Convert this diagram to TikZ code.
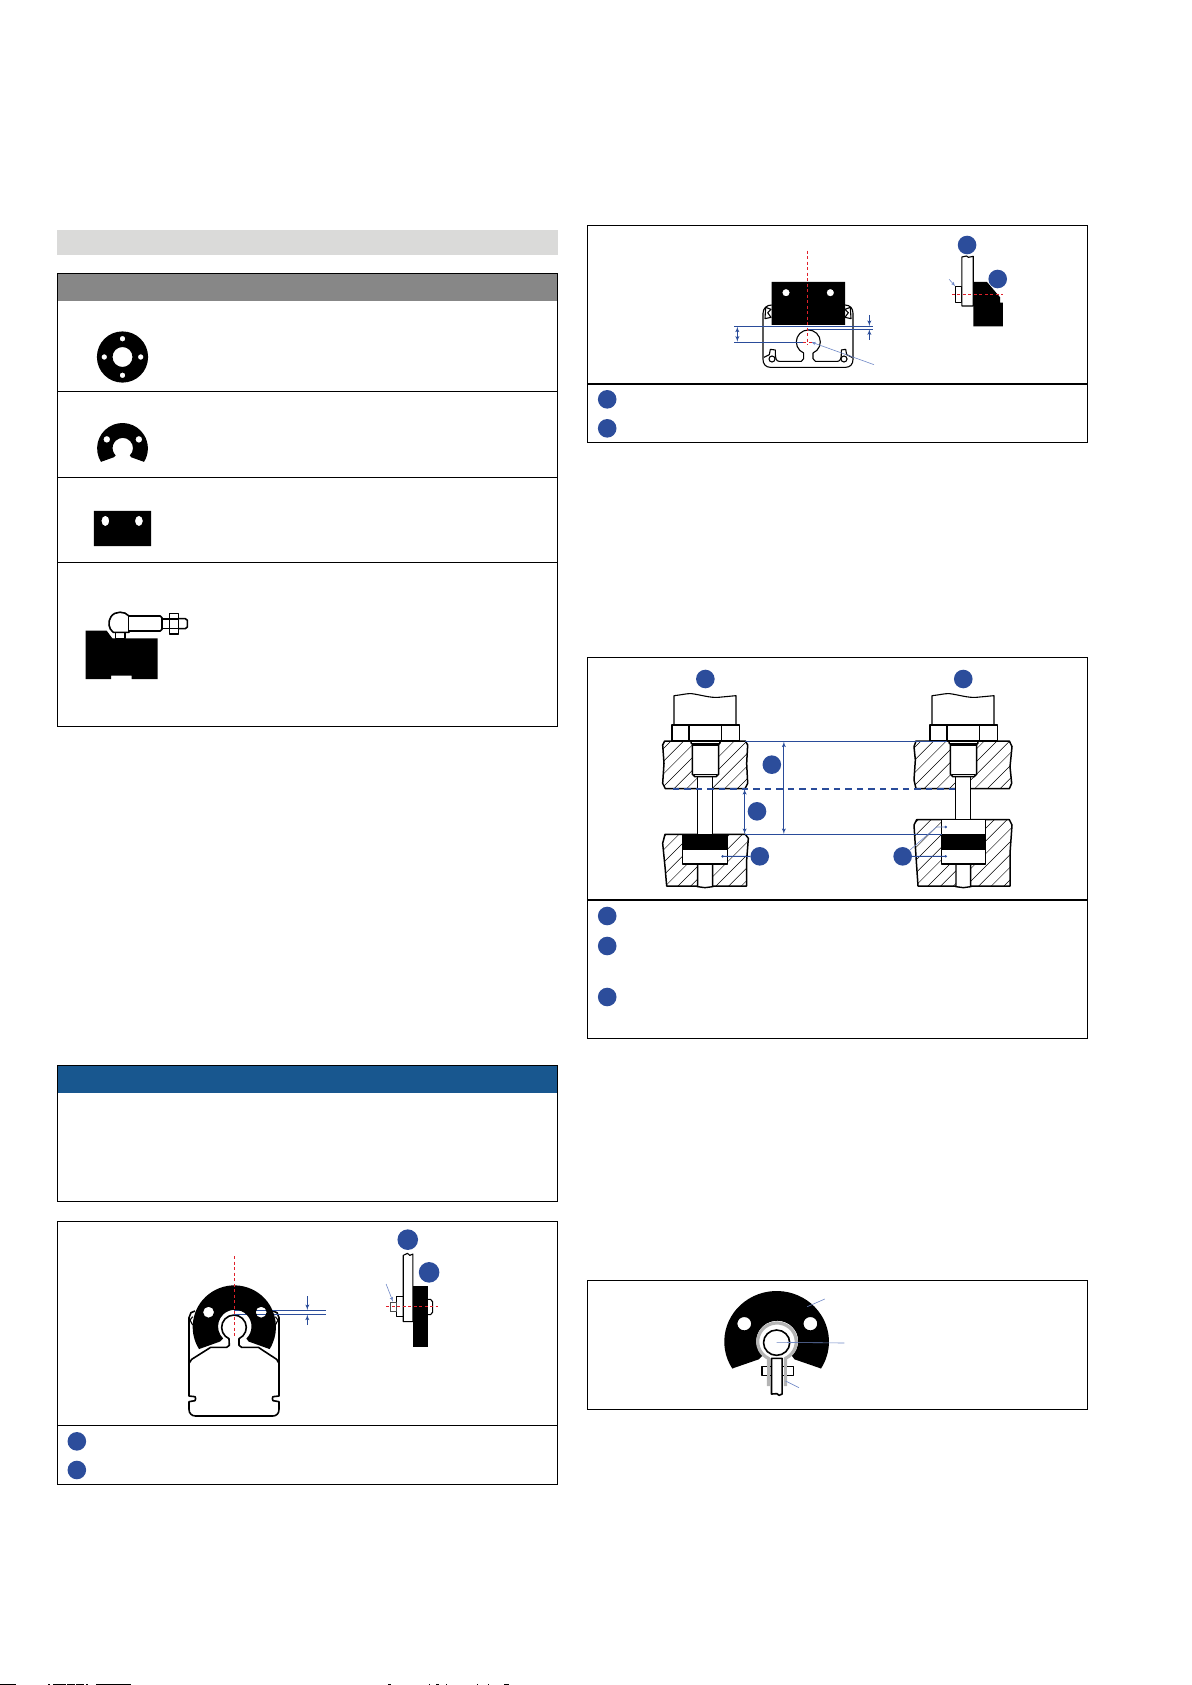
\documentclass[tikz,border=0pt]{standalone}
\usepackage{xcolor}
\usetikzlibrary{arrows,calc}

\definecolor{dotblue}{HTML}{2C4D9B}
\definecolor{linkblue}{HTML}{2A4C9A}
\definecolor{paleblue}{HTML}{6F88C6}
\definecolor{headblue}{HTML}{18578F}
\definecolor{barfill}{HTML}{DADAD9}
\definecolor{headgray}{HTML}{878787}
\definecolor{ringgray}{HTML}{B4B4B4}
\definecolor{axisred}{HTML}{E0202A}

\tikzset{
    cropA/.style={shift={(40,210)},xscale=1/2.8,yscale=1/2.904},
    cropB/.style={shift={(580,210)},xscale=1/2.904,yscale=1/3},
    cropC/.style={shift={(580,650)},xscale=1/2.904,yscale=1/3},
    cropD/.style={shift={(40,1060)},xscale=1/2.904,yscale=1/3},
    cropE/.style={shift={(580,1270)},xscale=1/2.904,yscale=1/3},
    frameline/.style={line width=1.1pt,draw=black},
    partline/.style={line width=1.1pt,draw=black,fill=white,line join=round},
    heavyline/.style={line width=1.6pt,draw=black,fill=white,line join=round},
    hatchline/.style={line width=0.45pt,draw=black},
    dimline/.style={line width=0.9pt,draw=linkblue},
    thinline/.style={line width=0.6pt,draw=paleblue},
    axisline/.style={line width=0.8pt,draw=axisred,dash pattern=on 3pt off 2.5pt},
    numdot/.style={circle,fill=dotblue,inner sep=0pt,minimum size=18.6pt},
    pinfill/.style={line width=1.4pt,draw=black,fill=white},
}

% Black plate with the open bore, drawn around its centre
\newcommand{\arcplate}{
    \fill[black,even odd rule] (148:152) arc[start angle=148,end angle=392,radius=152]
        -- (52,53) -- (44,42) arc[start angle=46,end angle=-226,radius=61]
        -- (-52,53) -- cycle
        (-94,-54) circle[radius=20] (98,-54) circle[radius=20];
}

% Hatched block: the argument is its outline
\newcommand{\hatchblock}[1]{
    \begin{scope}
        \clip #1;
        \foreach \h in {-720,-682,...,360} {
            \draw[hatchline] (\h,700) -- (\h+700,0);
        }
    \end{scope}
    \draw[line width=1.5pt,draw=black,line join=round] #1;
}

% Sensor head, nut, insert and pin: x offset, pin end
\newcommand{\bolttop}[2]{
    \begin{scope}[shift={(#1,0)}]
        \draw[pinfill] (143,285) rectangle (188,#2);
        \draw[partline] (72,133) -- (72,47) .. controls (100,44) and (110,40) .. (125,41)
            .. controls (150,44) and (180,54) .. (205,52) -- (258,47) -- (258,133);
        \draw[heavyline] (66,135) rectangle (268,183);
        \draw[partline] (117,135) -- (117,183) (214,135) -- (214,183);
        \draw[heavyline] (127,195) -- (206,195) -- (206,282) -- (198,290) -- (135,290) -- (127,282) -- cycle;
        \draw[partline] (131,283) -- (202,283);
        \fill[black] (121,183) -- (212,183) -- (212,190) -- (205,197) -- (128,197) -- (121,190) -- cycle;
        \fill[white] (127,186) rectangle (206,189);
    \end{scope}
}

\begin{document}
\begin{tikzpicture}[x=1pt,y=-1pt,>=latex']
    \useasboundingbox (0,0) rectangle (1191,1685);

    % Title bar and table of the mounting parts
    \begin{scope}[cropA]
        \fill[barfill] (48,57) rectangle (1450,131);
        \fill[headgray] (48,184) rectangle (1450,265);
        \draw[frameline] (48,184) rectangle (1450,1499);
        \draw[frameline] (48,528) -- (1450,528) (48,776) -- (1450,776) (48,1023) -- (1450,1023);
        % Rectangular plate
        \fill[black,even odd rule] (151,874) rectangle (311,976)
            (183,903) ellipse[x radius=11,y radius=15]
            (277,903) ellipse[x radius=11,y radius=15];
    \end{scope}

    % Round plate
    \begin{scope}[shift={(122.5,357)}]
        \fill[black,even odd rule] (0,0) circle[radius=25.6]
            (0,0) circle[radius=10]
            (18.2,0) circle[radius=2.8] (-18.2,0) circle[radius=2.8]
            (0,18.3) circle[radius=2.8] (0,-18.3) circle[radius=2.8];
    \end{scope}

    % Open plate
    \begin{scope}[shift={(122.5,448.4)},scale=0.167]
        \arcplate
    \end{scope}

    % Block with ball joint
    \begin{scope}[shift={(75,605)},scale=1/3]
        \fill[black] (32,77) -- (95,77) -- (112,100) -- (248,100) -- (248,222) -- (170,222) -- (170,212)
            -- (108,212) -- (108,222) -- (32,222) -- cycle;
        \draw[heavyline] (122,82) rectangle (150,100);
        \draw[heavyline] (162,33) .. controls (150,18) and (120,17) .. (108,35)
            .. controls (98,50) and (100,72) .. (115,82) -- (162,82) -- cycle;
        \draw[heavyline] (162,33) -- (256,33) -- (261,38) -- (261,73) -- (256,78) -- (162,78);
        \draw[heavyline] (261,42) rectangle (284,70);
        \draw[heavyline] (310,41) -- (331,41) -- (337,46) -- (337,66) -- (331,71) -- (310,71);
        \draw[heavyline] (284,25) rectangle (310,87);
        \draw[heavyline] (284,42) -- (310,42) (284,70) -- (310,70);
    \end{scope}

    % Upper right panel
    \begin{scope}[cropB]
        \draw[frameline] (21,46) rectangle (1473,697);
        \draw[frameline] (21,522) -- (1473,522);
        \node[numdot] (bTop) at (1124,105) {};
        \node[numdot] (bPlate) at (1213,207) {};
        \node[numdot] (bKeyA) at (79,568) {};
        \node[numdot] (bKeyB) at (79,655) {};
        % side view
        \fill[black] (1142,216) -- (1182,216) -- (1220,262) -- (1220,278) -- (1228,278)
            -- (1228,349) -- (1142,349) -- cycle;
        \draw[partline] (1090,229) rectangle (1109,278);
        \draw[partline] (1109,288) -- (1109,141) -- (1122,138) -- (1128,142) -- (1142,139) -- (1142,288) -- cycle;
        \coordinate (bTipFrom) at (1072,208);
        \coordinate (bTipTo) at (1090,229);
        \draw[->,thinline] (bTipFrom) -- (bTipTo);
        \draw[axisline] (1080,253) -- (1228,253);
    \end{scope}
    \begin{scope}[shift={(725,270)},scale=1/3]
        % rail
        \draw[partline] (140,105) .. controls (125,105) and (114,115) .. (114,130) -- (114,268)
            .. controls (114,282) and (122,292) .. (136,292) -- (362,292)
            .. controls (376,292) and (384,282) .. (384,268) -- (384,130)
            .. controls (384,115) and (375,105) .. (360,105);
        \draw[partline,fill=none] (122,112) -- (138,118) -- (128,128) -- (138,142) -- (120,146) -- cycle;
        \draw[partline,fill=none] (376,112) -- (360,118) -- (370,128) -- (360,142) -- (378,146) -- cycle;
        \draw[partline,fill=none] (264,249) arc[start angle=67,end angle=-247,radius=36];
        \draw[partline,fill=none] (264,249) -- (264,266) -- (271,274) -- (338,274)
            .. controls (347,274) and (349,262) .. (349,250) -- (349,240) -- (362,238) -- (365,254)
            -- (381,262);
        \draw[partline,fill=none] (236,249) -- (236,266) -- (229,274) -- (162,274)
            .. controls (153,274) and (151,262) .. (151,250) -- (151,240) -- (136,238) -- (133,254) -- (117,262);
        \draw[partline] (141,267) circle[radius=9] (357,267) circle[radius=9];
        % plate
        \fill[black,even odd rule] (140,36) rectangle (360,165)
            (183,68) circle[radius=11] (316,68) circle[radius=11];
        % dimensions
        \draw[dimline] (27,169) -- (444,169) (250,177) -- (444,177) (27,216) -- (235,216);
        \draw[dimline,<->] (37,170) -- (37,215);
        \draw[dimline,->] (433,135) -- (433,168);
        \draw[dimline,->] (433,210) -- (433,178);
        \coordinate (bLeadFrom) at (447,284);
        \coordinate (bLeadTo) at (258,216);
        \draw[->,thinline] (bLeadFrom) -- (bLeadTo);
        \draw[axisline] (247,-58) -- (247,226) (235,216) -- (262,216);
    \end{scope}

    % Right panel with the two bolts
    \begin{scope}[cropC]
        \draw[frameline] (21,22) rectangle (1473,1165);
        \draw[frameline] (21,750) -- (1473,750);
    \end{scope}
    \begin{scope}[shift={(650,680)},scale=1/3]
        \hatchblock{(44,183) -- (286,183) -- (293,195) -- (290,250) -- (293,310) -- (285,326) -- (46,326) -- (38,310) -- (42,250) -- (38,195) -- cycle}
        \hatchblock{(45,463) -- (286,463) -- (295,475) -- (290,540) -- (290,618) -- (50,618) -- (45,560) -- (38,490) -- cycle}
        \draw[pinfill] (143,552) -- (143,620) -- (165,623) -- (188,620) -- (188,552);
        \draw[heavyline] (98,463) rectangle (232,552);
        \fill[black] (98,463) rectangle (232,509);
        \bolttop{0}{463}
    \end{scope}
    \begin{scope}[shift={(900,680)},scale=1/3]
        \hatchblock{(48,183) -- (328,183) -- (336,200) -- (330,260) -- (335,310) -- (328,326) -- (48,326) -- (42,300) -- (46,240) -- (42,200) -- cycle}
        \hatchblock{(50,419) -- (328,419) -- (336,435) -- (330,520) -- (330,618) -- (54,618) -- (48,530) -- (42,435) -- cycle}
        \draw[pinfill] (168,552) -- (168,620) -- (190,623) -- (212,620) -- (212,552);
        \draw[heavyline] (125,419) rectangle (256,552);
        \fill[black] (125,463) rectangle (256,509);
        \bolttop{24}{419}
    \end{scope}
    \begin{scope}[cropC]
        \node[numdot] (cLeft) at (364,87) {};
        \node[numdot] (cRight) at (1113,87) {};
        \node[numdot] (cUpper) at (557,344) {};
        \node[numdot] (cLower) at (514,484) {};
        \node[numdot] (cSlotL) at (522,619) {};
        \node[numdot] (cSlotR) at (937,619) {};
        \node[numdot] (cKeyA) at (79,798) {};
        \node[numdot] (cKeyB) at (79,888) {};
        \node[numdot] (cKeyC) at (79,1041) {};
        \draw[dimline] (480,274) -- (1065,274) (478,553) -- (1050,553);
        \draw[line width=2pt,draw=linkblue,dash pattern=on 6.5pt off 5pt] (270,416) -- (1090,416);
        \draw[dimline,<->] (592,275) -- (592,552);
        \draw[dimline,<->] (478,417) -- (478,552);
        % slot leaders
        \coordinate (cPointL) at (414,619);
        \coordinate (cPointR) at (1062,619);
        \coordinate (cPointS) at (1062,531);
        \draw[dimline] (cSlotL) -- (cPointL);
        \draw[dimline] (cSlotR) -- (cPointR);
        \fill[linkblue] (cPointL) circle[radius=4] (cPointR) circle[radius=4] (cPointS) circle[radius=4];
        \draw[thinline] (cSlotR) -- (1035,531) -- (cPointS);
    \end{scope}

    % Note box
    \begin{scope}[cropD]
        \fill[headblue] (50,16) rectangle (1503,98);
        \draw[frameline] (50,16) rectangle (1503,424);
        \draw[frameline] (50,484) rectangle (1503,1273);
        \draw[frameline] (50,1096) -- (1503,1096);
        \node[numdot,minimum size=20.6pt] (dTop) at (1068,539) {};
        \node[numdot,minimum size=20.6pt] (dPlate) at (1130,637) {};
        \node[numdot] (dKeyA) at (107,1144) {};
        \node[numdot] (dKeyB) at (107,1230) {};
        % side view
        \draw[partline] (1127,718) -- (1134,718) -- (1140,725) -- (1140,757) -- (1134,764) -- (1127,764);
        \fill[black] (1083,678) rectangle (1127,860);
        \draw[partline] (1036,710) rectangle (1055,770);
        \draw[line width=1.2pt,draw=black!70,fill=white] (1017,728) rectangle (1036,754);
        \draw[partline] (1083,785) -- (1055,785) -- (1055,586) -- (1067,580) -- (1074,586) -- (1083,582) -- cycle;
        \coordinate (dTipFrom) at (1005,672);
        \coordinate (dTipTo) at (1025,725);
        \draw[->,thinline] (dTipFrom) -- (dTipTo);
        \draw[axisline] (1005,739) -- (1157,739);
    \end{scope}
    \begin{scope}[shift={(180,1270)},scale=1/3]
        % profile
        \draw[heavyline] (27,280) -- (27,378) -- (45,380) -- (47,386) -- (45,392) -- (27,395) -- (27,418)
            .. controls (27,430) and (35,438) .. (47,438) -- (278,438)
            .. controls (290,438) and (297,430) .. (297,418) -- (297,395) -- (279,392) -- (277,386)
            -- (279,380) -- (297,378) -- (297,280) -- (290,268) -- (235,232) -- (185,232)
            -- (177,226) -- (177,206) arc[start angle=66,end angle=-246,radius=37]
            -- (148,226) -- (140,232) -- (92,232) -- (35,268) -- cycle;
        \draw[heavyline,fill=none] (27,280) -- (27,143) -- (33,128) -- (45,123);
        \draw[heavyline,fill=none] (297,280) -- (297,143) -- (291,128) -- (279,123);
        \draw[partline,fill=none] (38,140) -- (30,150) -- (38,165) (286,140) -- (294,150) -- (286,165);
        % dimensions go under the plate
        \draw[dimline] (163,121) -- (437,121) (163,133) -- (437,133);
        \draw[dimline,->] (382,78) -- (382,120);
        \draw[dimline,->] (382,165) -- (382,134);
        \begin{scope}[shift={(163,171)},scale=0.822]
            \arcplate
        \end{scope}
        \draw[axisline] (163,-42) -- (163,205);
    \end{scope}

    % Lower right panel
    \begin{scope}[cropE]
        \draw[frameline] (21,31) rectangle (1473,418);
        \begin{scope}[shift={(571,215)}]
            \arcplate
        \end{scope}
        \draw[line width=3.2pt,draw=ringgray,fill=white] (597,348) -- (597,265)
            arc[start angle=63.5,end angle=-243.5,radius=56] -- (547,348);
        \draw[heavyline] (528,289) rectangle (620,316);
        \draw[line width=3.2pt,draw=ringgray] (547,285) -- (547,320) (597,285) -- (597,320);
        \draw[heavyline] (571,218) circle[radius=38];
        \draw[heavyline] (587,372) -- (578,376) -- (572,371) -- (556,372) -- (556,265) -- (587,265) -- cycle;
        \coordinate (eLeadA) at (660,110);
        \coordinate (eLeadAEnd) at (711,87);
        \coordinate (eLeadB) at (571,217);
        \coordinate (eLeadBEnd) at (768,219);
        \coordinate (eLeadC) at (597,333);
        \coordinate (eLeadCEnd) at (636,353);
        \draw[thinline] (eLeadA) -- (eLeadAEnd) (eLeadB) -- (eLeadBEnd) (eLeadC) -- (eLeadCEnd);
    \end{scope}

    % Broken marks on the last pixel row
    \foreach \a/\b in {0/16,48/50,52.5/66,67/75,76/84,86/87.5,96/131,388/391,428.5/429.5,436/438.5,445.5/446.5,476.5/477.5,487.5/489,504/509} {
        \fill[black] (\a,1684) rectangle (\b,1685);
    }
\end{tikzpicture}
\end{document}
